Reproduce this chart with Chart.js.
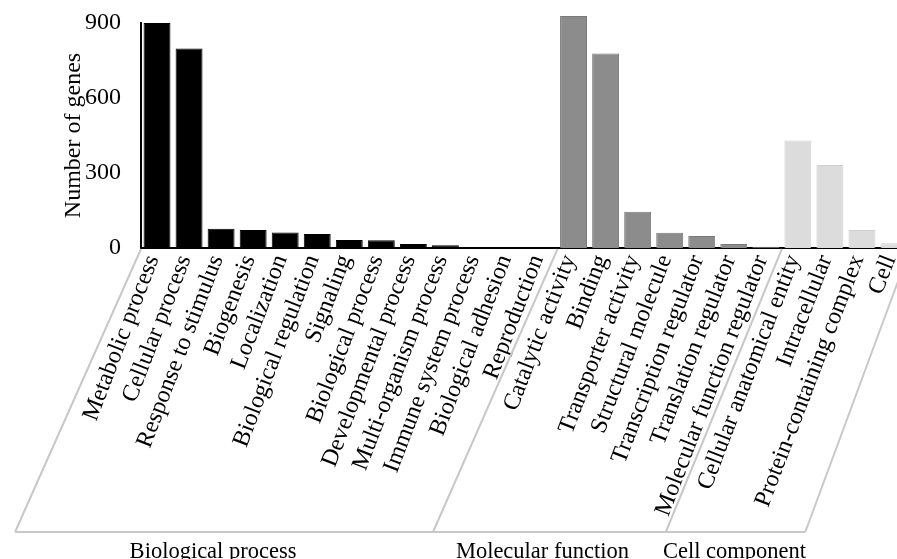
<!DOCTYPE html>
<html>
<head>
<meta charset="utf-8">
<script src="https://cdn.jsdelivr.net/npm/chart.js@4"></script>
<style>
  html, body { margin: 0; padding: 0; background: #fff; overflow: hidden; }
  #wrap { position: absolute; left: 0; top: 0; width: 915px; height: 559px; }
</style>
</head>
<body>
<div id="wrap"><canvas id="myChart"></canvas></div>
<script>
// GO categories and gene counts
const bioLabels = ["Metabolic process", "Cellular process", "Response to stimulus", "Biogenesis",
  "Localization", "Biological regulation", "Signaling", "Biological process", "Developmental process",
  "Multi-organism process", "Immune system process", "Biological adhesion", "Reproduction"];
const bioCounts = [900, 798, 77, 72, 62, 56, 32, 31, 16, 11, 4, 3, 3];

const molLabels = ["Catalytic activity", "Binding", "Transporter activity", "Structural molecule",
  "Transcription regulator", "Translation regulator", "Molecular function regulator"];
const molCounts = [928, 778, 145, 61, 48, 16, 5];

const cellLabels = ["Cellular anatomical entity", "Intracellular", "Protein-containing complex", "Cell"];
const cellCounts = [430, 332, 72, 19];

const groupNames = ["Biological process", "Molecular function", "Cell component"];
const yTicks = [0, 300, 600, 900];

const font = "'Liberation Serif', 'Times New Roman', serif";

const labels = [...bioLabels, ...molLabels, ...cellLabels];
const counts = [...bioCounts, ...molCounts, ...cellCounts];
const fills = [
  ...bioCounts.map(() => "#000000"),
  ...molCounts.map(() => "#8c8c8c"),
  ...cellCounts.map(() => "#dcdcdc"),
];
const edges = [
  ...bioCounts.map(() => "#000000"),
  ...molCounts.map(() => "#7a7a7a"),
  ...cellCounts.map(() => "#cfcfcf"),
];
const groupSizes = [bioLabels.length, molLabels.length, cellLabels.length];

// slanted boxes under the tick labels, with the group names
const groupBoxes = {
  id: "groupBoxes",
  afterDraw(chart) {
    const ctx = chart.ctx;
    const area = chart.chartArea;
    const step = (area.right - area.left) / labels.length;
    const top = area.bottom + 1;
    const bottom = 532;
    const slant = [0.445, 0.44, 0.41, 0.37];   // the edges lean a bit less towards the right
    const h = bottom - top;

    const bounds = [area.left];
    let n = 0;
    groupSizes.forEach(s => { n += s; bounds.push(area.left + n * step); });
    const feet = bounds.map((b, i) => b - h * slant[i]);

    ctx.save();
    ctx.strokeStyle = "#c8c8c8";
    ctx.lineWidth = 2;
    ctx.beginPath();
    bounds.forEach((b, i) => {
      ctx.moveTo(b, top);
      ctx.lineTo(feet[i], bottom);
    });
    ctx.moveTo(feet[0], bottom);
    ctx.lineTo(feet[feet.length - 1], bottom);
    ctx.stroke();

    ctx.fillStyle = "#000";
    ctx.font = "22.5px " + font;
    ctx.textAlign = "center";
    ctx.textBaseline = "alphabetic";
    const shift = [-11, -7, -1];
    groupNames.forEach((name, i) => {
      ctx.fillText(name, (feet[i] + feet[i + 1]) / 2 + shift[i], 558);
    });
    ctx.restore();
  }
};

new Chart(document.getElementById("myChart"), {
  type: "bar",
  data: {
    labels: labels,
    datasets: [{
      data: counts,
      backgroundColor: fills,
      borderColor: edges,
      borderWidth: 1,
      barPercentage: 0.84,
      categoryPercentage: 1,
      clip: false,
    }],
  },
  options: {
    responsive: true,
    maintainAspectRatio: false,
    animation: false,
    layout: { padding: { top: 23, right: 5, left: 0, bottom: 0 } },
    plugins: { legend: { display: false }, tooltip: { enabled: false } },
    scales: {
      x: {
        grid: { display: false },
        border: { display: true, color: "#000", width: 2 },
        ticks: {
          autoSkip: false,
          minRotation: 69,
          maxRotation: 69,
          padding: -5,
          labelOffset: -4,
          color: "#000",
          font: { family: font, size: 24 },
        },
        afterFit(scale) {
          scale.height = 311;
          scale.paddingLeft = 0;
          scale.paddingRight = 0;
        },
      },
      y: {
        min: 0,
        max: 900,
        grid: { display: false },
        border: { display: true, color: "#000", width: 2 },
        afterBuildTicks(scale) { scale.ticks = yTicks.map(v => ({ value: v })); },
        ticks: {
          padding: 12,
          color: "#000",
          font: { family: font, size: 24 },
        },
        title: {
          display: true,
          text: "Number of genes",
          color: "#000",
          font: { family: font, size: 24 },
          padding: { top: 59, bottom: 0 },
        },
        afterFit(scale) {
          scale.width = 141;
          scale.paddingTop = 0;
          scale.paddingBottom = 0;
        },
      },
    },
  },
  plugins: [groupBoxes],
});
</script>
</body>
</html>
